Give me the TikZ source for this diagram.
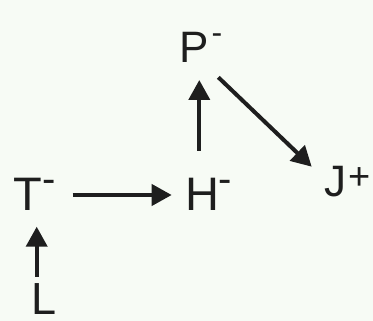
\documentclass[tikz,border=0pt]{standalone}
\usepackage{fontspec}
\setmainfont{Liberation Sans}
\usetikzlibrary{arrows.meta}
\definecolor{bgc}{HTML}{F7FBF5}
\definecolor{ink}{HTML}{1E1E1E}
\newcommand\supmark[3]{\raisebox{#2pt}{\fontsize{#1}{#1}\selectfont #3}}
\begin{document}
\begin{tikzpicture}[x=1pt,y=-1pt,
  lbl/.style={anchor=base west,inner sep=0pt,outer sep=0pt,text=ink},
  arr/.style={draw=ink,line width=4pt,-{Triangle[length=20pt,width=21pt]}}]
\fill[bgc] (0,0) rectangle (373,321);
\useasboundingbox (0,0) rectangle (373,321);
\node[lbl,font=\fontsize{44}{44}\selectfont] (P) at (179.3,62.7) {P\kern3pt\supmark{32}{19}{-}};
\node[lbl,font=\fontsize{44}{44}\selectfont] (J) at (324.5,196.7) {J\kern1.5pt\supmark{38}{7}{+}};
\node[lbl,font=\fontsize{47}{47}\selectfont] (T) at (13.2,210.7) {T\kern0.6pt\supmark{40}{18.1}{-}};
\node[lbl,font=\fontsize{47}{47}\selectfont] (H) at (185.5,210.7) {H\kern-0.6pt\supmark{40}{18.1}{-}};
\node[lbl,font=\fontsize{45}{45}\selectfont] (L) at (31,315) {L};
\coordinate (Ltop) at (36.7,276.7);
\coordinate (Tbot) at (36.7,226.7);
\coordinate (Tright) at (72.7,195);
\coordinate (Hleft) at (171.7,195);
\coordinate (Htop) at (199.3,150.7);
\coordinate (Pbot) at (199.3,80);
\coordinate (Pright) at (218.3,77.3);
\coordinate (Jleft) at (311.7,166.7);
\draw[arr] (Ltop) -- (Tbot);
\draw[arr] (Tright) -- (Hleft);
\draw[arr] (Htop) -- (Pbot);
\draw[arr] (Pright) -- (Jleft);
\end{tikzpicture}
\end{document}
